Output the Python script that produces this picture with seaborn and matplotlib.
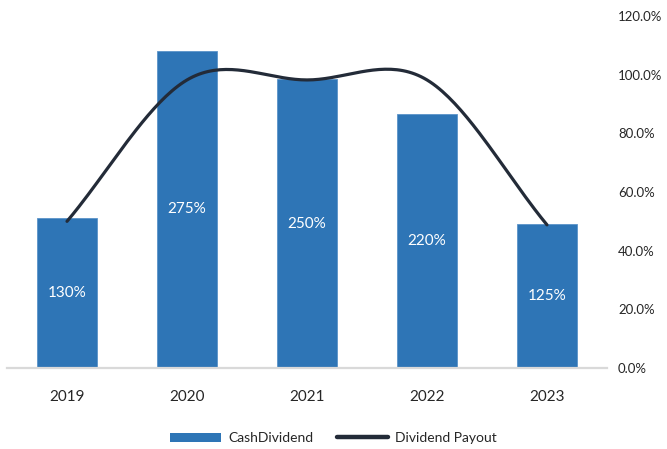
import numpy as np
import pandas as pd
import matplotlib
matplotlib.use("Agg")
import matplotlib.pyplot as plt
from matplotlib.patches import Patch
from matplotlib.lines import Line2D
from matplotlib.ticker import FuncFormatter
import seaborn as sns

# Chart data
years = ["2019", "2020", "2021", "2022", "2023"]
cash_dividend = [130, 275, 250, 220, 125]          # % of par value
dividend_payout = [50.0, 98.2, 98.2, 98.2, 48.8]   # % of earnings
payout_ticks = [0, 20, 40, 60, 80, 100, 120]

BAR_COLOR = "#2E75B6"
LINE_COLOR = "#232B38"
TEXT_COLOR = "#262626"

sns.set_theme(style="white")
plt.rcParams["font.family"] = ["Lato", "DejaVu Sans"]


def smooth_curve(values, samples=40):
    """Cubic Hermite (Catmull-Rom style) curve through the points, like a smoothed line."""
    p = np.asarray(values, dtype=float)
    n = len(p)
    m = np.empty(n)
    m[1:-1] = (p[2:] - p[:-2]) / 2.0
    m[0] = p[1] - p[0]
    m[-1] = p[-1] - p[-2]
    xs, ys = [], []
    for i in range(n - 1):
        t = np.linspace(0, 1, samples, endpoint=(i == n - 2))
        h00 = 2 * t**3 - 3 * t**2 + 1
        h10 = t**3 - 2 * t**2 + t
        h01 = -2 * t**3 + 3 * t**2
        h11 = t**3 - t**2
        xs.append(i + t)
        ys.append(h00 * p[i] + h10 * m[i] + h01 * p[i + 1] + h11 * m[i + 1])
    return np.concatenate(xs), np.concatenate(ys)


df = pd.DataFrame({"year": years, "cash": cash_dividend})

fig = plt.figure(figsize=(6.67, 4.49), dpi=100)
ax = fig.add_axes([7 / 667, 81 / 449, 600 / 667, 352 / 449])

sns.barplot(data=df, x="year", y="cash", color=BAR_COLOR, width=0.5,
            saturation=1, ax=ax, zorder=2, edgecolor="#5B93C9", linewidth=0.6)
ax.set_xlim(-0.5, len(years) - 0.5)
ax.set_ylim(0, 305)
ax.set_xlabel("")
ax.set_ylabel("")
ax.set_yticks([])
ax.tick_params(axis="x", length=0, pad=16, labelsize=11, labelcolor=TEXT_COLOR)
for side in ("top", "left", "right"):
    ax.spines[side].set_visible(False)
ax.spines["bottom"].set_color("#D9D9D9")
ax.spines["bottom"].set_linewidth(1.6)

# value labels centred in each bar
for i, v in enumerate(cash_dividend):
    ax.text(i, v / 2, f"{v}%", ha="center", va="center",
            color="white", fontsize=11, zorder=3)

# payout line on the secondary axis
ax2 = ax.twinx()
cx, cy = smooth_curve(dividend_payout)
ax2.plot(cx, cy, color=LINE_COLOR, linewidth=2.3, solid_capstyle="round", zorder=4)
ax2.set_ylim(0, 120)
ax2.set_yticks(payout_ticks)
ax2.yaxis.set_major_formatter(FuncFormatter(lambda v, _: f"{v:.1f}%"))
ax2.tick_params(axis="y", length=0, pad=8, labelsize=9.5, labelcolor=TEXT_COLOR)
for lab in ax2.get_yticklabels():
    lab.set_horizontalalignment("left")
for side in ("top", "left", "right", "bottom"):
    ax2.spines[side].set_visible(False)
ax2.grid(False)

handles = [
    Patch(facecolor=BAR_COLOR, edgecolor="none"),
    Line2D([0], [0], color=LINE_COLOR, linewidth=3.2, solid_capstyle="round"),
]
fig.legend(handles, ["CashDividend", "Dividend Payout"], loc="center",
           bbox_to_anchor=(0.5, 1 - 438 / 449), ncol=2, frameon=False,
           fontsize=10, handlelength=3.7, handleheight=0.6,
           handletextpad=0.5, columnspacing=1.7, labelcolor=TEXT_COLOR)

fig.savefig("out.png", dpi=100)
